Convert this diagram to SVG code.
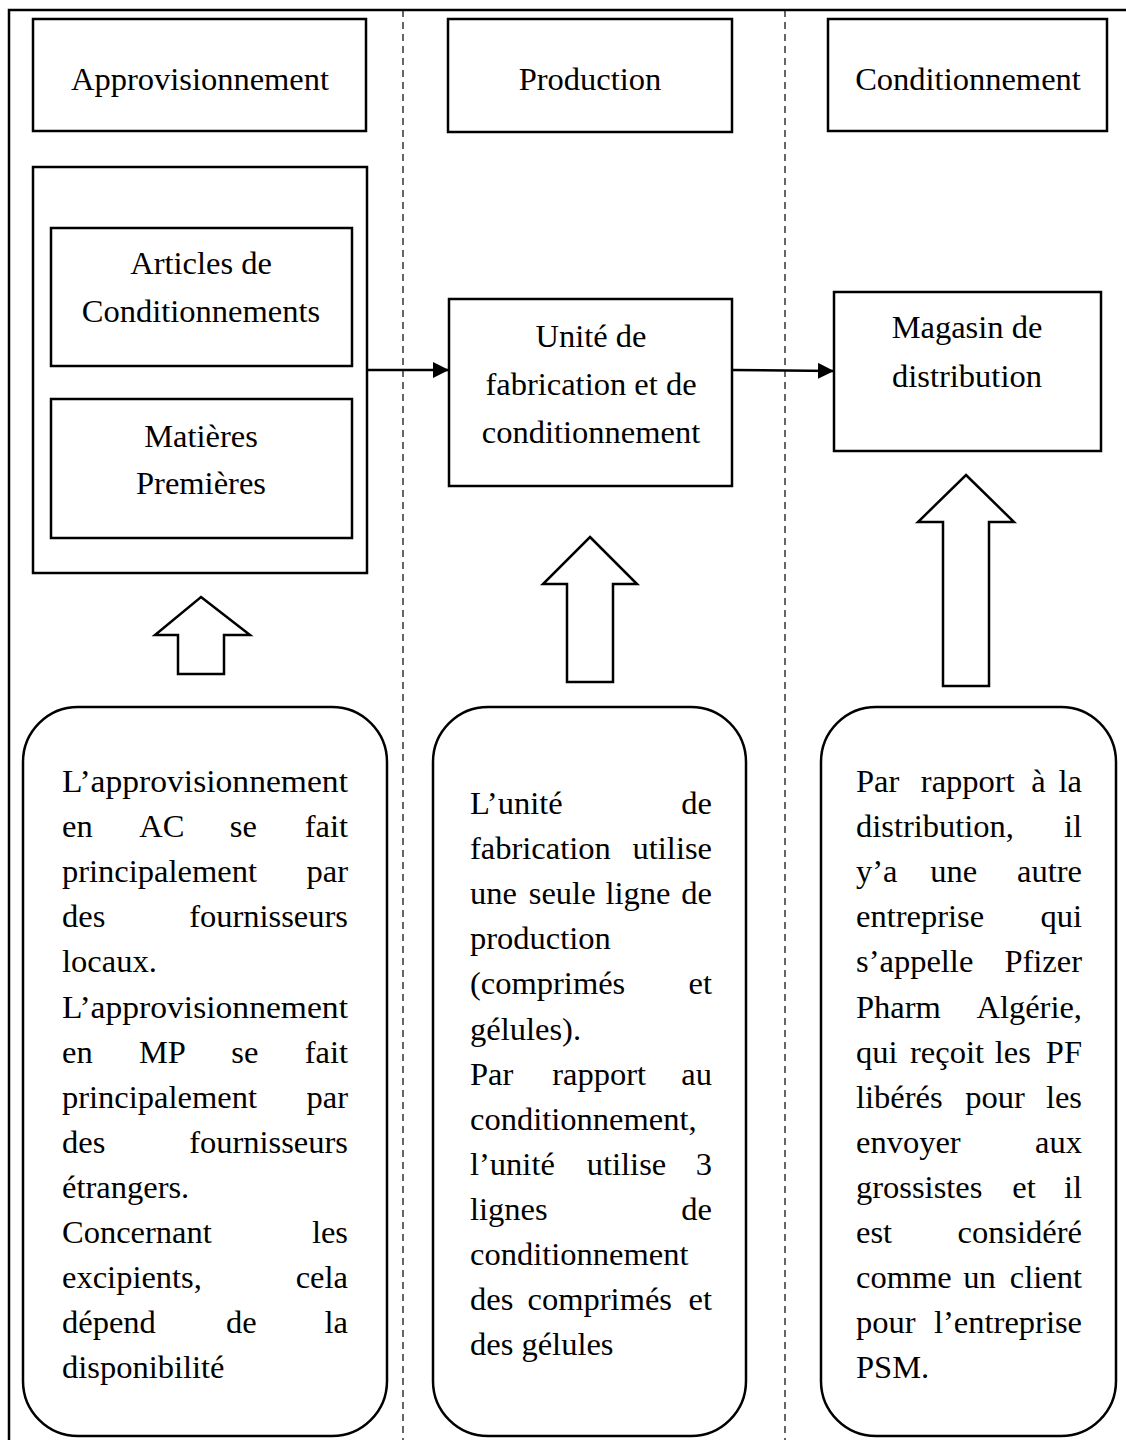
<svg xmlns="http://www.w3.org/2000/svg" width="1126" height="1440" viewBox="0 0 1126 1440">
<style>
  .box { fill: #fff; stroke: #000; stroke-width: 2.5; }
  .frame { fill: none; stroke: #000; stroke-width: 2.5; }
  .lane { stroke: #000; stroke-width: 1.2; stroke-dasharray: 7 5; fill: none; }
  .conn { stroke: #000; stroke-width: 2.5; fill: none; }
  .barrow { fill: #fff; stroke: #000; stroke-width: 2.5; stroke-linejoin: miter; }
  text { font-family: "Liberation Serif", "Times New Roman", serif; font-size: 32.5px; fill: #000; }
  .c { text-anchor: middle; }
  .s { text-anchor: start; }
  .m { text-anchor: middle; }
  .e { text-anchor: end; }
</style>
<defs>
  <marker id="ah" markerUnits="userSpaceOnUse" markerWidth="16" markerHeight="16" viewBox="0 0 16 16" refX="16" refY="8" orient="auto">
    <path d="M0,0 L16,8 L0,16 z" fill="#000"/>
  </marker>
</defs>
<rect width="1126" height="1440" fill="#fff"/>

<g id="frame">
  <path class="frame" d="M9,1440 L9,10 L1126,10"/>
  <line class="lane" x1="403" y1="10" x2="403" y2="1440"/>
  <line class="lane" x1="785" y1="10" x2="785" y2="1440"/>
</g>

<g id="hdr-approvisionnement">
  <rect class="box" x="33" y="19" width="333" height="112"/>
  <text class="c" x="200" y="90">Approvisionnement</text>
</g>
<g id="hdr-production">
  <rect class="box" x="448" y="19" width="284" height="113"/>
  <text class="c" x="590" y="90">Production</text>
</g>
<g id="hdr-conditionnement">
  <rect class="box" x="828" y="19" width="279" height="112"/>
  <text class="c" x="968" y="90">Conditionnement</text>
</g>

<g id="stock">
  <rect class="box" x="33" y="167" width="334" height="406"/>
</g>
<g id="articles">
  <rect class="box" x="51" y="228" width="301" height="138"/>
  <text class="c" x="201" y="274">Articles de</text>
  <text class="c" x="201" y="322">Conditionnements</text>
</g>
<g id="matieres">
  <rect class="box" x="51" y="399" width="301" height="139"/>
  <text class="c" x="201" y="447">Matières</text>
  <text class="c" x="201" y="494">Premières</text>
</g>
<g id="unite">
  <rect class="box" x="449" y="299" width="283" height="187"/>
  <text class="c" x="591" y="347">Unité de</text>
  <text class="c" x="591" y="395">fabrication et de</text>
  <text class="c" x="591" y="443">conditionnement</text>
</g>
<g id="magasin">
  <rect class="box" x="834" y="292" width="267" height="159"/>
  <text class="c" x="967" y="338">Magasin de</text>
  <text class="c" x="967" y="387">distribution</text>
</g>

<g id="connectors">
  <line class="conn" x1="367" y1="370" x2="449" y2="370" marker-end="url(#ah)"/>
  <line class="conn" x1="732" y1="370" x2="834" y2="371" marker-end="url(#ah)"/>
</g>

<g id="up-arrows">
  <polygon class="barrow" points="201,597 250,635 224,635 224,674 178,674 178,635 155,635"/>
  <polygon class="barrow" points="590,537 637,584 613,584 613,682 567,682 567,584 543,584"/>
  <polygon class="barrow" points="966,475 1014,522 989,522 989,686 943,686 943,522 918,522"/>
</g>

<g id="note-appro">
  <rect class="box" x="23" y="707" width="364" height="729" rx="55" ry="55"/>
  <text class="s" x="62" y="792" textLength="286" lengthAdjust="spacingAndGlyphs">L’approvisionnement</text>
  <text class="s" x="62" y="837">en</text><text class="m" x="161.8" y="837">AC</text><text class="m" x="243.4" y="837">se</text><text class="e" x="348" y="837">fait</text>
  <text class="s" x="62" y="882">principalement</text><text class="e" x="348" y="882">par</text>
  <text class="s" x="62" y="927">des</text><text class="e" x="348" y="927">fournisseurs</text>
  <text class="s" x="62" y="972">locaux.</text>
  <text class="s" x="62" y="1018" textLength="286" lengthAdjust="spacingAndGlyphs">L’approvisionnement</text>
  <text class="s" x="62" y="1063">en</text><text class="m" x="162.4" y="1063">MP</text><text class="m" x="244.8" y="1063">se</text><text class="e" x="348" y="1063">fait</text>
  <text class="s" x="62" y="1108">principalement</text><text class="e" x="348" y="1108">par</text>
  <text class="s" x="62" y="1153">des</text><text class="e" x="348" y="1153">fournisseurs</text>
  <text class="s" x="62" y="1198">étrangers.</text>
  <text class="s" x="62" y="1243">Concernant</text><text class="e" x="348" y="1243">les</text>
  <text class="s" x="62" y="1288">excipients,</text><text class="e" x="348" y="1288">cela</text>
  <text class="s" x="62" y="1333">dépend</text><text class="m" x="241.4" y="1333">de</text><text class="e" x="348" y="1333">la</text>
  <text class="s" x="62" y="1378">disponibilité</text>
</g>

<g id="note-production">
  <rect class="box" x="433" y="707" width="313" height="729" rx="55" ry="55"/>
  <text class="s" x="470" y="814">L’unité</text><text class="e" x="712" y="814">de</text>
  <text class="s" x="470" y="859">fabrication</text><text class="e" x="712" y="859">utilise</text>
  <text class="s" x="470" y="904">une</text><text class="m" x="562.2" y="904">seule</text><text class="m" x="638" y="904">ligne</text><text class="e" x="712" y="904">de</text>
  <text class="s" x="470" y="949">production</text>
  <text class="s" x="470" y="994">(comprimés</text><text class="e" x="712" y="994">et</text>
  <text class="s" x="470" y="1040">gélules).</text>
  <text class="s" x="470" y="1085">Par</text><text class="m" x="599.1" y="1085">rapport</text><text class="e" x="712" y="1085">au</text>
  <text class="s" x="470" y="1130">conditionnement,</text>
  <text class="s" x="470" y="1175">l’unité</text><text class="m" x="626.5" y="1175">utilise</text><text class="e" x="712" y="1175">3</text>
  <text class="s" x="470" y="1220">lignes</text><text class="e" x="712" y="1220">de</text>
  <text class="s" x="470" y="1265">conditionnement</text>
  <text class="s" x="470" y="1310">des</text><text class="m" x="599.8" y="1310">comprimés</text><text class="e" x="712" y="1310">et</text>
  <text class="s" x="470" y="1355">des gélules</text>
</g>

<g id="note-conditionnement">
  <rect class="box" x="821" y="707" width="295" height="729" rx="55" ry="55"/>
  <text class="s" x="856" y="792">Par</text><text class="m" x="967.8" y="792">rapport</text><text class="m" x="1038.4" y="792">à</text><text class="e" x="1082" y="792">la</text>
  <text class="s" x="856" y="837">distribution,</text><text class="e" x="1082" y="837">il</text>
  <text class="s" x="856" y="882">y’a</text><text class="m" x="953.8" y="882">une</text><text class="e" x="1082" y="882">autre</text>
  <text class="s" x="856" y="927">entreprise</text><text class="e" x="1082" y="927">qui</text>
  <text class="s" x="856" y="972">s’appelle</text><text class="e" x="1082" y="972">Pfizer</text>
  <text class="s" x="856" y="1018">Pharm</text><text class="e" x="1082" y="1018">Algérie,</text>
  <text class="s" x="856" y="1063">qui</text><text class="m" x="947" y="1063">reçoit</text><text class="m" x="1012.8" y="1063">les</text><text class="e" x="1082" y="1063">PF</text>
  <text class="s" x="856" y="1108">libérés</text><text class="m" x="995" y="1108">pour</text><text class="e" x="1082" y="1108">les</text>
  <text class="s" x="856" y="1153">envoyer</text><text class="e" x="1082" y="1153">aux</text>
  <text class="s" x="856" y="1198">grossistes</text><text class="m" x="1024" y="1198">et</text><text class="e" x="1082" y="1198">il</text>
  <text class="s" x="856" y="1243">est</text><text class="e" x="1082" y="1243">considéré</text>
  <text class="s" x="856" y="1288">comme</text><text class="m" x="979.4" y="1288">un</text><text class="e" x="1082" y="1288">client</text>
  <text class="s" x="856" y="1333">pour</text><text class="e" x="1082" y="1333">l’entreprise</text>
  <text class="s" x="856" y="1378">PSM.</text>
</g>
</svg>
